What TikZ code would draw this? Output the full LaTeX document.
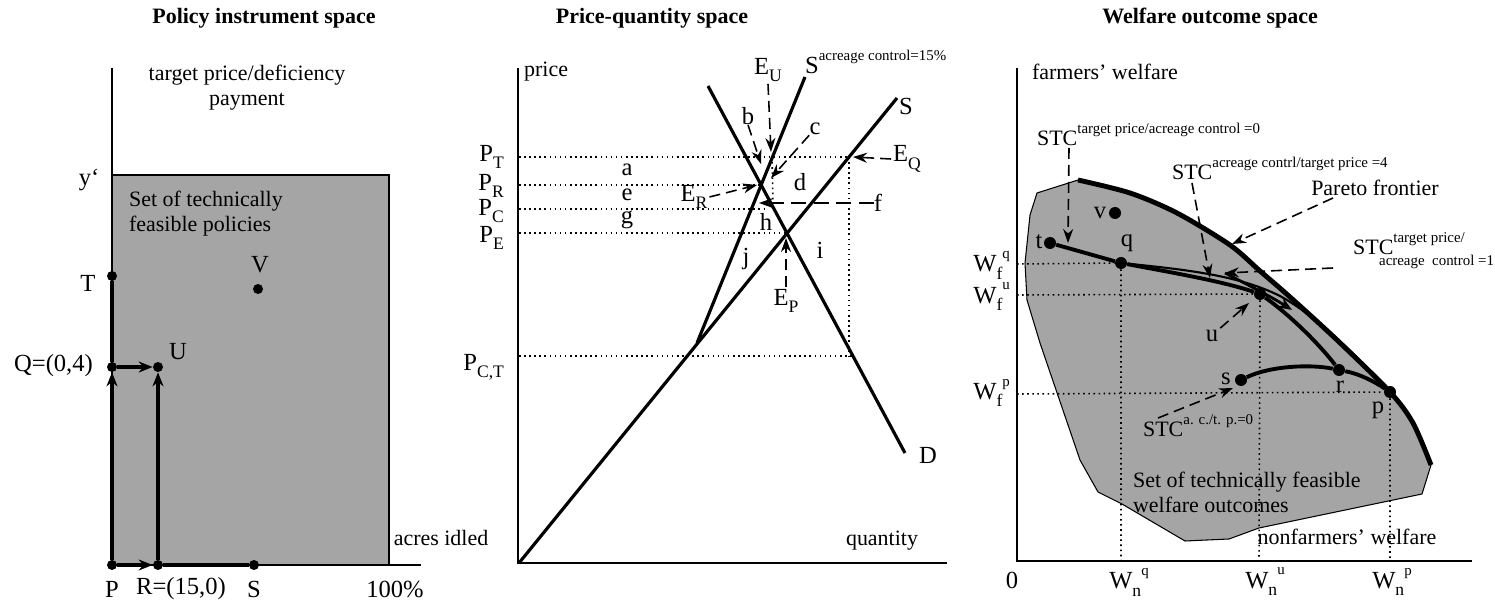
\documentclass[tikz,border=0pt]{standalone}
\usepackage{fontspec}
\setmainfont{Liberation Serif}
\usetikzlibrary{arrows.meta,positioning,calc}
\definecolor{feasGray}{RGB}{165,165,165}
\newcommand{\sps}[1]{\raisebox{0.55em}{\fontsize{8.5}{9}\selectfont #1}}
\newcommand{\sbs}[1]{\raisebox{-0.3em}{\fontsize{10}{11}\selectfont #1}}

\begin{document}
\begin{tikzpicture}[x=0.02cm,y=-0.02cm,
    ttl/.style={font=\bfseries\fontsize{12.5}{14}\selectfont},
    txt/.style={font=\fontsize{12.5}{14.3}\selectfont,inner sep=1pt},
    lbl/.style={font=\fontsize{14}{16}\selectfont,inner sep=1pt},
    dot/.style={circle,fill=black,inner sep=0pt,minimum size=2mm},
    ax/.style={line width=0.9pt},
    thk/.style={line width=2.2pt},
    crv/.style={line width=1.8pt},
    dl/.style={dotted,line width=0.9pt},
    arr/.style={-{Stealth[length=2.8mm,width=2.2mm]}},
    da/.style={dash pattern=on 2.2mm off 1.2mm,line width=0.9pt,
               -{Stealth[length=2.8mm,width=2mm]}}]
  \useasboundingbox (0,0) rectangle (1495,604);

  % policy instrument space
  \node[ttl] (tpol) at (264,18) {Policy instrument space};
  \fill[feasGray] (112,175) rectangle (389,565);
  \draw[line width=0.6pt] (112,175) -| (389,565);
  \draw[ax] (112,68) -- (112,565) -- (421,565);
  \node[txt,align=center] (ypol) at (247,88) {target price/deficiency\\payment};
  \node[lbl] (yp) at (89,180) {y‘};
  \node[txt,align=left,anchor=west] (setpol) at (127,214) {Set of technically\\feasible policies};
  \node[txt] (xpol) at (441,538) {acres idled};
  \node[lbl] (hund) at (395,589) {100\%};
  \node[dot] (T) at (112,276) {};
  \node[dot] (V) at (258,289) {};
  \node[dot] (Q) at (112,367) {};
  \node[dot] (U) at (158,367) {};
  \node[dot] (P) at (112,565) {};
  \node[dot] (R) at (158,565) {};
  \node[dot] (S) at (254,565) {};
  \node[lbl] (lT) at (88,283) {T};
  \node[lbl] (lV) at (260,265) {V};
  \node[lbl,anchor=east] (lQ) at (95,366) {Q=(0,4)};
  \node[lbl] (lU) at (178,352) {U};
  \node[lbl] (lP) at (112,589) {P};
  \node[lbl,anchor=west] (lR) at (134,589) {R=(15,0)};
  \node[lbl] (lS) at (254,589) {S};
  \draw[thk] (Q) -- (T);
  \draw[thk,arr] (P) -- (Q);
  \draw[thk,arr] (Q) -- (U);
  \draw[thk,arr] (R) -- (U);
  \draw[thk,arr] (P) -- (R);
  \draw[thk] (R) -- (S);

  % price-quantity space
  \node[ttl] (tpq) at (652,18) {Price-quantity space};
  \draw[ax] (518,68) -- (518,563) -- (947,563);
  \node[txt,anchor=west] (ypq) at (522,72) {price};
  \node[txt] (xpq) at (882,541) {quantity};
  \coordinate (O) at (519,563);
  \coordinate (Stop) at (897,98);
  \coordinate (K) at (697,343);
  \coordinate (Atop) at (805,77);
  \coordinate (Dtop) at (708,86);
  \coordinate (Dbot) at (905,453);
  \coordinate (EQ) at (849,157);
  \coordinate (ER) at (761,185);
  \coordinate (EP) at (787,233);
  \coordinate (EU) at (772,157);
  \foreach \yy/\xe/\ly/\sb in {157/849/157/T,185/761/186/R,209/768/211/C,233/787/238/E,356/853/367/{C,T}}{
    \draw[dl] (519,\yy) -- (\xe,\yy);
    \node[lbl,anchor=east] (pl\yy) at (506,\ly) {P\sbs{\sb}};
  }
  \draw[dl] (EQ) -- (849,356);
  \draw[dl] (EU) -- (773,203);
  \draw[crv] (O) -- (Stop);
  \draw[crv] (K) -- (Atop);
  \draw[crv] (Dtop) -- (Dbot);
  \node[lbl] (lSS) at (906,106) {S};
  \node[lbl] (lD) at (928,455) {D};
  \node[lbl,anchor=west] (lSA) at (803,62) {S\sps{acreage control=15\%}};
  \foreach \nm/\px/\py in {a/627/170,e/627/195,g/627/220,b/748/116,c/815/129,d/800/182,f/878/203,h/766/222,i/820/250,j/746/259}{
    \node[lbl,inner sep=0pt] (l\nm) at (\px,\py) {\nm};
  }
  \node[lbl] (lEU) at (768,70) {E\sbs{U}};
  \node[lbl] (lER) at (694,197) {E\sbs{R}};
  \node[lbl] (lEQ) at (907,159) {E\sbs{Q}};
  \node[lbl] (lEP) at (786,301) {E\sbs{P}};
  \coordinate (tb) at (761,164);
  \coordinate (tc) at (771,178);
  \coordinate (tf) at (759,203);
  \draw[da] (lb.south) -- (tb);
  \draw[da] (lEU.south) -- (771,152);
  \draw[da] (lc.south west) -- (tc);
  \draw[da] (lER.east) -- (757,185);
  \draw[da] (lEQ.west) -- (853,157);
  \draw[da,dash pattern=on 3mm off 1.5mm] (lf.west) -- (tf);
  \draw[da] (lEP.north) -- (786,238);

  % welfare outcome space
  \node[ttl] (twel) at (1210,18) {Welfare outcome space};
  \draw[fill=feasGray,line width=0.6pt] (1078,180) -- (1037,193) -- (1030,215) -- (1025,263)
    -- (1027,300) -- (1040,343) -- (1080,460) -- (1098,492) -- (1122,504) -- (1185,541)
    -- (1229,539) -- (1259,528) -- (1422,494) -- (1431,465)
    -- plot[smooth] coordinates {(1431,465) (1413,423) (1390,392) (1337,340) (1290,297)
       (1260,271) (1230,245) (1177,213) (1130,193) (1078,180)} -- cycle;
  \draw[ax] (1017,68) -- (1017,561) -- (1472,561);
  \draw[line width=2.8pt] plot[smooth] coordinates {(1078,180) (1130,193) (1177,213)
       (1230,245) (1260,271) (1290,297) (1337,340) (1390,392) (1413,423) (1431,465)};
  \node[txt,anchor=west] (ywel) at (1030,72) {farmers’ welfare};
  \node[txt] (xwel) at (1347,537) {nonfarmers’ welfare};
  \node[txt,align=left,anchor=west] (setwel) at (1131,492) {Set of technically feasible\\welfare outcomes};
  \node[dot,minimum size=2.4mm] (t) at (1050,243) {};
  \node[dot,minimum size=2.4mm] (q) at (1121,263) {};
  \node[dot,minimum size=2.4mm] (v) at (1115,213) {};
  \node[dot,minimum size=2.4mm] (u) at (1260,294) {};
  \node[dot,minimum size=2.4mm] (s) at (1241,380) {};
  \node[dot,minimum size=2.4mm] (r) at (1339,370) {};
  \node[dot,minimum size=2.4mm] (p) at (1390,392) {};
  \draw[dl] (1017,264) -- (q) -- (1121,561);
  \draw[dl] (1017,295) -- (u) -- (1259,561);
  \draw[dl] (1017,394) -- (p) -- (1390,561);
  \node[lbl,anchor=east] (wfq) at (1012,265) {W\sbs{f}\sps{q}};
  \node[lbl,anchor=east] (wfu) at (1012,297) {W\sbs{f}\sps{u}};
  \node[lbl,anchor=east] (wfp) at (1012,393) {W\sbs{f}\sps{p}};
  \node[lbl] (zero) at (1012,580) {0};
  \node[lbl] (wnq) at (1129,582) {W\sbs{n}\sps{q}};
  \node[lbl] (wnu) at (1265,582) {W\sbs{n}\sps{u}};
  \node[lbl] (wnp) at (1392,582) {W\sbs{n}\sps{p}};
  \node[lbl] (lt) at (1039,242) {t};
  \node[lbl] (lq) at (1127,243) {q};
  \node[lbl] (lv) at (1100,213) {v};
  \node[lbl] (lu) at (1212,336) {u};
  \node[lbl] (ls) at (1226,379) {s};
  \node[lbl] (lr) at (1340,387) {r};
  \node[lbl] (lp) at (1378,410) {p};
  \draw[thk] (t) -- (q);
  \draw[line width=1.2pt] (q) .. controls (1190,270) and (1240,276) .. (1280,296)
    .. controls (1320,318) and (1360,360) .. (p);
  \draw[thk] (q) .. controls (1180,274) and (1225,282) .. (u);
  \draw[line width=1.6pt,arr] (1225,273) .. controls (1250,286) and (1270,296) .. (1292,310);
  \draw[thk] (u) .. controls (1290,315) and (1320,345) .. (r);
  \draw[thk] (s) .. controls (1270,366) and (1310,364) .. (r);
  \draw[thk] (r) .. controls (1360,374) and (1375,382) .. (p);
  \node[txt,anchor=west] (stc0) at (1035,134) {STC\sps{target price/acreage control =0}};
  \node[txt,anchor=west] (stc4) at (1170,168) {STC\sps{acreage contrl/target price =4}};
  \node[txt] (pareto) at (1375,188) {Pareto frontier};
  \node[txt,anchor=west] (stc1) at (1351,244) {STC\sps{target price/}};
  \node[font=\fontsize{8.5}{9}\selectfont,inner sep=1pt,anchor=west] (stc1b) at (1377,262) {acreage\ \ control =1};
  \node[txt,anchor=west] (stcs) at (1141,426) {STC\sps{a. c./t. p.=0}};
  \draw[da] (1069,148) -- (1068,243);
  \draw[da] (1192,183) -- (1210,278);
  \draw[da] (1333,198) -- (1232,244);
  \draw[da] (1333,268) -- (1225,273);
  \draw[da] (lu.north east) -- (1249,303);
  \draw[da] (1158,418) -- (1233,388);
\end{tikzpicture}
\end{document}
